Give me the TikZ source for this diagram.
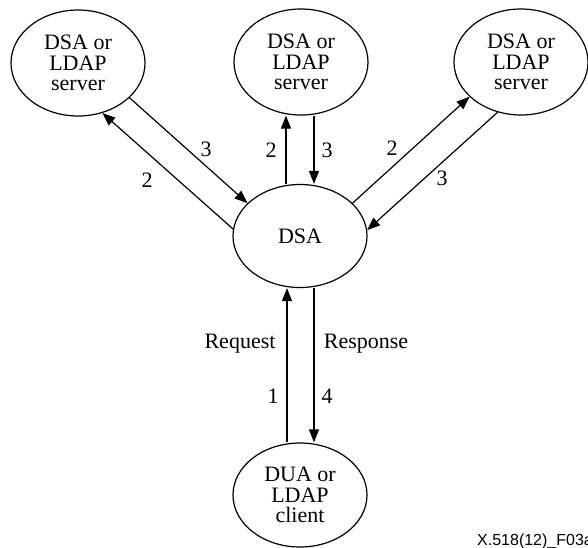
\documentclass[tikz,border=0pt]{standalone}
\usepackage{fontspec}
\setmainfont{Liberation Serif}
\newfontfamily\capfont{Liberation Sans}
\usetikzlibrary{shapes.geometric,arrows.meta}
\begin{document}
\begin{tikzpicture}[x=1pt,y=-1pt,
  ent/.style={ellipse,draw,line width=1.2pt,minimum width=134pt,minimum height=106pt,inner sep=0pt,align=center,font=\fontsize{22}{20.5}\selectfont},
  arr/.style={line width=1.2pt,-{Triangle[length=13pt,width=10pt]}},
  lbl/.style={anchor=base,font=\fontsize{22}{24}\selectfont,inner sep=0pt}]
\useasboundingbox (0,0) rectangle (588,547);
\node[ent] (tl) at (78,63) {DSA or\\LDAP\\server};
\node[ent] (tm) at (301,62) {DSA or\\LDAP\\server};
\node[ent] (tr) at (521,62) {DSA or\\LDAP\\server};
\node[ent,minimum height=103pt] (dsa) at (300,236) {DSA};
\node[ent,minimum height=104pt] (dua) at (300,495) {DUA or\\LDAP\\client};
% left pair
\draw[arr] (dsa.174.9) -- (tl.296.6);
\draw[arr] (tl.326.8) -- (dsa.148.4);
% middle pair
\draw[arr] ([xshift=-14pt]dsa.north) -- ([xshift=-15pt]tm.south);
\draw[arr] ([xshift=13pt]tm.south) -- ([xshift=14pt]dsa.north);
% right pair
\draw[arr] (dsa.32.4) -- (tr.214.5);
\draw[arr] (tr.245.7) -- (dsa.5.1);
% bottom pair
\draw[arr] ([xshift=-13pt]dua.north) -- ([xshift=-13pt]dsa.south);
\draw[arr] ([xshift=14pt]dsa.south) -- ([xshift=14pt]dua.north);
% labels
\node[lbl] (l3a) at (206,156) {3};
\node[lbl] (l2a) at (147,187) {2};
\node[lbl] (l2b) at (271,157) {2};
\node[lbl] (l3b) at (327,157) {3};
\node[lbl] (l2c) at (392,155) {2};
\node[lbl] (l3c) at (442,185) {3};
\node[lbl] (req) at (240,348) {Request};
\node[lbl] (resp) at (366,348) {Response};
\node[lbl] (l1) at (273,403) {1};
\node[lbl] (l4) at (327,403) {4};
\node[anchor=base west,font=\capfont\fontsize{16}{18}\selectfont,inner sep=0pt] (cap) at (477,545) {X.518(12)\_F03a};
\end{tikzpicture}
\end{document}
